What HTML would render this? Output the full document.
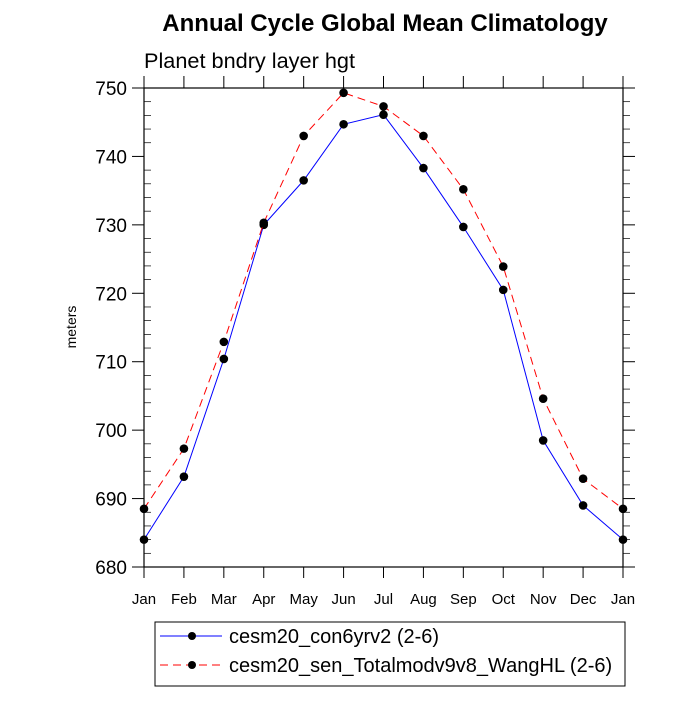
<!DOCTYPE html>
<html><head><meta charset="utf-8"><style>
body{margin:0;background:#fff}
svg text{font-family:"Liberation Sans",Arial,sans-serif}
</style></head><body>
<svg id="c" width="700" height="700" xmlns="http://www.w3.org/2000/svg">
<text x="385" y="31" text-anchor="middle" font-size="24" font-weight="bold">Annual Cycle Global Mean Climatology</text>
<text x="144" y="68" font-size="21.7">Planet bndry layer hgt</text>
<text x="0" y="0" font-size="14" transform="translate(76,327) rotate(-90)" text-anchor="middle">meters</text>
<g id="axes"></g>
<g id="marks"></g>
<g>
<rect x="155" y="622" width="470" height="64" fill="none" stroke="#000" stroke-width="1"/>
<line x1="160" y1="636" x2="222" y2="636" stroke="#00f" stroke-width="1"/>
<circle cx="192" cy="636" r="4" fill="#000"/>
<text x="229" y="643" font-size="20">cesm20_con6yrv2 (2-6)</text>
<line x1="160" y1="665" x2="222" y2="665" stroke="#f00" stroke-width="1" stroke-dasharray="8,5"/>
<circle cx="192" cy="665" r="4" fill="#000"/>
<text x="229" y="672" font-size="20">cesm20_sen_Totalmodv9v8_WangHL (2-6)</text>
</g>
</svg>
<script>
const months=["Jan","Feb","Mar","Apr","May","Jun","Jul","Aug","Sep","Oct","Nov","Dec","Jan"];
const conValues=[684,693.2,710.4,730,736.5,744.7,746.1,738.3,729.7,720.5,698.5,689,684];
const senValues=[688.5,697.3,712.9,730.3,743,749.3,747.3,743,735.2,723.9,704.6,692.9,688.5];
const yTicks=[680,690,700,710,720,730,740,750];
const L=144,R=623,T=88,B=567,ymin=680,ymax=750;
const xs=i=>L+(R-L)*i/(months.length-1);
const ys=v=>B-(v-ymin)/(ymax-ymin)*(B-T);
const NS="http://www.w3.org/2000/svg";
function mk(tag,attrs,parent){const e=document.createElementNS(NS,tag);for(const k in attrs)e.setAttribute(k,attrs[k]);parent.appendChild(e);return e;}
const ax=document.getElementById("axes"),mg=document.getElementById("marks");
const frame=mk("rect",{x:L,y:T,width:R-L,height:B-T,fill:"none",stroke:"#000","stroke-width":1.2},ax);


months.forEach((m,i)=>{
 const x=xs(i);
 mk("line",{x1:x,y1:B,x2:x,y2:B+11,stroke:"#000"},ax);
 mk("line",{x1:x,y1:T,x2:x,y2:T-12,stroke:"#000"},ax);
 const t=mk("text",{x:x,y:604,"text-anchor":"middle","font-size":15},ax);
 t.textContent=m;
 
 
});
yTicks.forEach((v,i)=>{
 const y=ys(v);
 mk("line",{x1:L-12,y1:y,x2:L,y2:y,stroke:"#000"},ax);
 mk("line",{x1:R,y1:y,x2:R+12,y2:y,stroke:"#000"},ax);
 const t=mk("text",{x:L-17,y:y+7,"text-anchor":"end","font-size":19},ax);
 t.textContent=v;
 
 
 if(i<yTicks.length-1){for(let k=1;k<5;k++){const yy=ys(v+2*k);
  mk("line",{x1:L,y1:yy,x2:L+7,y2:yy,stroke:"#000","stroke-width":0.7},ax);
  mk("line",{x1:R,y1:yy,x2:R+7,y2:yy,stroke:"#000","stroke-width":0.7},ax);}}
});
function series(vals,color,dash,name){
 const p=mk("polyline",{points:vals.map((v,i)=>xs(i)+","+ys(v)).join(" "),fill:"none",stroke:color,"stroke-width":1,"stroke-dasharray":dash},mg);
 
 
 vals.forEach((v,i)=>{const c=mk("circle",{cx:xs(i),cy:ys(v),r:4.3,fill:"#000"},mg);
  
  });
}
series(conValues,"#00f","none","con");
series(senValues,"#f00","8,5","sen");
</script>
</body></html>
